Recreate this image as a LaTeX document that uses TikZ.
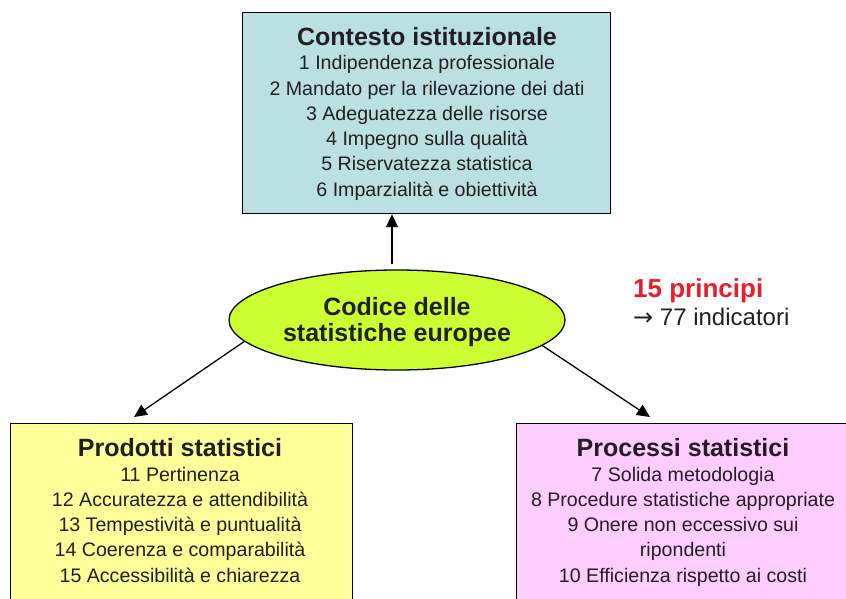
\documentclass[tikz,border=0pt]{standalone}
\usepackage{fontspec}
\setmainfont{Liberation Sans}
\newfontfamily\symfont{DejaVu Sans}
\usetikzlibrary{shapes.geometric,arrows.meta}
\definecolor{boxcyan}{RGB}{187,224,227}
\definecolor{ellgreen}{RGB}{204,255,51}
\definecolor{boxyellow}{RGB}{255,255,153}
\definecolor{boxpink}{RGB}{255,204,255}
\definecolor{txt}{RGB}{35,31,32}
\definecolor{redtxt}{RGB}{232,30,40}
\begin{document}
\begin{tikzpicture}[x=1pt,y=-1pt,
  box/.style={draw=black,line width=1.2pt,inner sep=0pt,anchor=north west},
  ttl/.style={anchor=base,font=\fontsize{25}{30}\selectfont\bfseries,text=txt,inner sep=0pt},
  itm/.style={anchor=base,font=\fontsize{19.6}{24}\selectfont,text=txt,inner sep=0pt},
  arr/.style={line width=1.3pt,-{Triangle[length=13pt,width=12pt]}}]
\useasboundingbox (0,0) rectangle (846,599);
\clip (0,0) rectangle (846,599);
% boxes
\node[box,fill=boxcyan,minimum width=368pt,minimum height=201pt] (top) at (242,12) {};
\node[box,fill=boxyellow,minimum width=342pt,minimum height=200pt] (left) at (10,423) {};
\node[box,fill=boxpink,minimum width=340pt,minimum height=200pt] (right) at (516,423) {};
% ellipse
\node[ellipse,draw=black,line width=1.3pt,fill=ellgreen,minimum width=336pt,minimum height=100pt,inner sep=0pt] (ell) at (397,320) {};
\node[ttl] (e1) at (397,315) {Codice delle};
\node[ttl] (e2) at (397,341) {statistiche europee};
% top box text
\node[ttl] (t0) at (427,46) {Contesto istituzionale};
\node[itm] (t1) at (427,70) {1 Indipendenza professionale};
\node[itm] (t2) at (427,95.2) {2 Mandato per la rilevazione dei dati};
\node[itm] (t3) at (427,120.4) {3 Adeguatezza delle risorse};
\node[itm] (t4) at (427,145.6) {4 Impegno sulla qualità};
\node[itm] (t5) at (427,170.8) {5 Riservatezza statistica};
\node[itm] (t6) at (427,196) {6 Imparzialità e obiettività};
% left box text
\node[ttl] (l0) at (180,456) {Prodotti statistici};
\node[itm] (l1) at (180,481) {11 Pertinenza};
\node[itm] (l2) at (180,506) {12 Accuratezza e attendibilità};
\node[itm] (l3) at (180,531) {13 Tempestività e puntualità};
\node[itm] (l4) at (180,556.5) {14 Coerenza e comparabilità};
\node[itm] (l5) at (180,582) {15 Accessibilità e chiarezza};
% right box text
\node[ttl] (r0) at (683,456) {Processi statistici};
\node[itm] (r1) at (683,481) {7 Solida metodologia};
\node[itm] (r2) at (683,506) {8 Procedure statistiche appropriate};
\node[itm] (r3) at (683,531) {9 Onere non eccessivo sui};
\node[itm] (r4) at (683,556.5) {ripondenti};
\node[itm] (r5) at (683,582) {10 Efficienza rispetto ai costi};
% side note
\node[anchor=base west,font=\fontsize{26}{30}\selectfont\bfseries,text=redtxt,inner sep=0pt] (p15) at (633,297) {15 principi};
\node[anchor=base west,font=\fontsize{24}{28}\selectfont,text=txt,inner sep=0pt] (p77) at (633,325) {{\symfont →} 77 indicatori};
% connectors
\coordinate (ltip) at (134,417);
\coordinate (rtip) at (650,417);
\draw[arr] ([xshift=-5pt,yshift=5pt]ell.north) -- ([xshift=-5pt]ell.north |- top.south);
\draw[arr] (ell.188.9) -- (ltip);
\draw[arr] (ell.350.7) -- (rtip);
\end{tikzpicture}
\end{document}
